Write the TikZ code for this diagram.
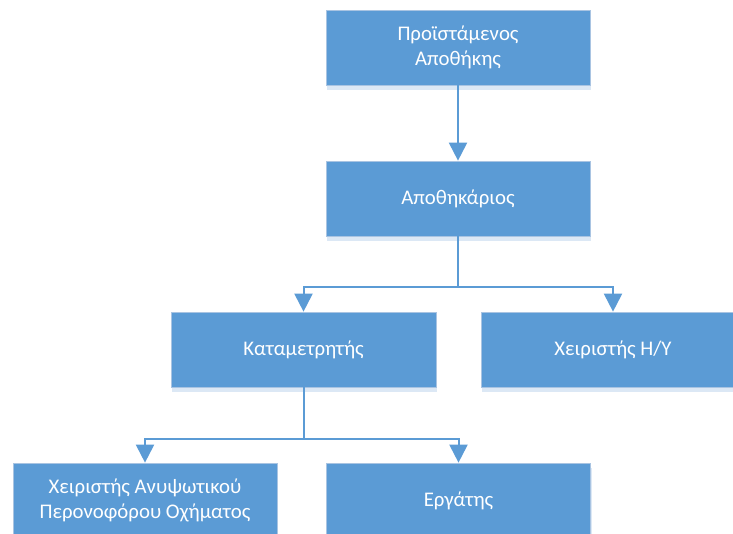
\documentclass[tikz,border=0pt]{standalone}
\usepackage{fontspec}
\setmainfont{Carlito}
\usetikzlibrary{arrows.meta,shadows}
\definecolor{boxblue}{HTML}{5B9BD5}
\definecolor{shadowblue}{HTML}{DCE8F5}
\definecolor{edgeblue}{HTML}{A9C4E2}
\begin{document}
\begin{tikzpicture}[x=1pt,y=-1pt,
  orgbox/.style={rectangle, fill=boxblue, draw=edgeblue, line width=0.7pt,
    minimum width=264pt, minimum height=75pt, inner sep=0pt,
    text=white, align=center, font=\fontsize{20.8}{25}\selectfont,
    drop shadow={shadow xshift=1pt, shadow yshift=-5pt, fill=shadowblue, opacity=1}},
  conn/.style={draw=boxblue, line width=2pt, -{Triangle[width=18pt,length=18pt]}}]
\useasboundingbox (0,0) rectangle (733,533);
\begin{scope}
\clip (0,0) rectangle (733,533);
\node[orgbox] (p) at (458,47.5) {Προϊστάμενος\\Αποθήκης};
\node[orgbox] (a) at (458,198.5) {Αποθηκάριος};
\node[orgbox, minimum width=265pt] (k) at (303.5,349.5) {Καταμετρητής};
\node[orgbox] (h) at (613,349.5) {Χειριστής Η/Υ};
\node[orgbox] (f) at (145,500.5) {Χειριστής Ανυψωτικού\\Περονοφόρου Οχήματος};
\node[orgbox] (e) at (458.5,500.5) {Εργάτης};
\end{scope}
\draw[conn] (p.south) -- (a.north);
\draw[conn] (a.south) -- ([yshift=-51pt]a.south) -| (k.north);
\draw[conn] (a.south) -- ([yshift=-51pt]a.south) -| (h.north);
\draw[conn] (k.south) -- ([yshift=-52pt]k.south) -| (f.north);
\draw[conn] (k.south) -- ([yshift=-52pt]k.south) -| (e.north);
\end{tikzpicture}
\end{document}
